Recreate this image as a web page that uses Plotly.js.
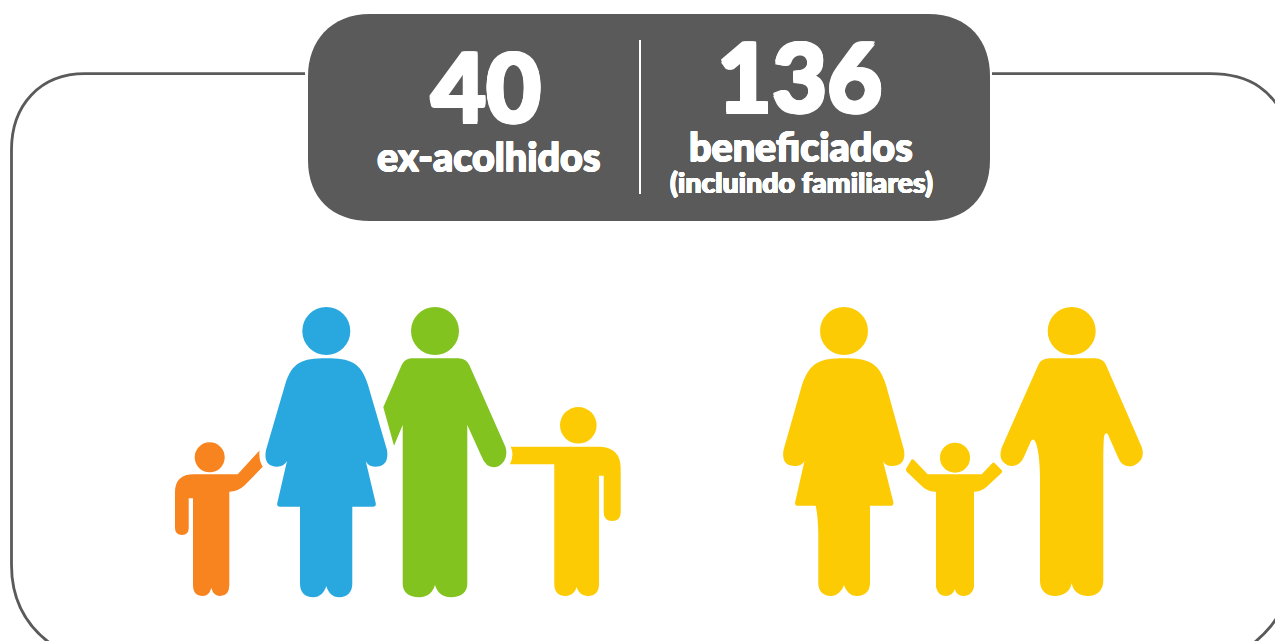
<!DOCTYPE html>
<html lang="pt">
<head>
<meta charset="utf-8">
<script src="https://cdn.plot.ly/plotly-3.0.1.min.js"></script>
<style>html,body{margin:0;padding:0;background:#fff;overflow:hidden}#chart{width:1275px;height:641px}</style>
</head>
<body>
<div id="chart"></div>
<script>
// Headline figures
const headlineValues = ['40', '136'];
const headlineLabels = ['ex-acolhidos', 'beneficiados', '(incluindo familiares)'];

// Pictogram people
const figureNames  = ['criança laranja', 'mulher azul', 'homem verde', 'criança amarela', 'mulher amarela', 'criança central', 'homem amarelo'];
const figureColors = ['#F7841F', '#29A8E0', '#82C320', '#FCCB04', '#FCCB04', '#FCCB04', '#FCCB04'];
const headX    = [209.7, 326.3, 435, 578.3, 844, 955, 1071.7];
const headY    = [457.3, 331, 331, 425.3, 331, 457.7, 331];
const headDiam = [30, 48, 48, 36.6, 48, 30, 48];

const bodyOutlines = [
  'M194 474.3 L237.7 474.3 L259.5 450.5 Q258.5 460 262.7 466.7 L245 485 Q238 491.7 229.3 491.7 L229.3 585 Q229.3 596 220 596 Q213.5 596 211.3 588 Q209 596 203 596 Q193 596 193 585 L193 498.3 L188.7 498.3 L188.7 528 Q188.7 535 182 535 Q175 535 175 528 L175 492 Q175 474.3 194 474.3 Z',
  'M326.3 358.3 C350 358.3 361 362 368 385 L387 450 Q389.5 466.7 375 466.7 Q368 466.7 365.7 461 L375.7 503 Q376.5 506.7 373 506.7 L352.3 506.7 L352.3 584 C352.3 592 347 597.3 339.5 597.3 C332 597.3 328 592 326.3 586 C324.6 592 320 597.3 313 597.3 C305 597.3 300 592 300 584 L300 506.7 L280 506.7 Q276.5 506.7 277.3 503 L287 461 Q284 466.7 277 466.7 Q263 466.7 266 450 L285 385 C292 362 302 358.3 326.3 358.3 Z',
  'M411.7 358.3 L458.3 358.3 Q466 358.3 469.3 365 L505.5 447 Q509 460 498 466.5 Q487 470 481.7 456.7 L467.3 425 L467.3 584 C467.3 592 461 597.3 451 597.3 C442 597.3 437 592 435 585 C433 592 428 597.3 419 597.3 C409 597.3 402.7 592 402.7 584 L402.7 425 L394 445.7 L383.3 407.3 L401.7 365 Q405 358.3 411.7 358.3 Z',
  'M510.7 446.7 L600 446.7 Q620.7 448 620.7 468 L620.7 512 Q620.7 521 612.2 521 Q603.7 521 603.7 512 L603.7 475.7 L599 475.7 L599 584 C599 592 595 596 588 596 C582 596 578 592 576.7 587 C575.4 592 571 596 565.5 596 C558.5 596 554.3 592 554.3 584 L554.3 464.3 L510 464.3 Q514.5 455 510.7 446.7 Z',
  'M844 358.3 C868 358.3 879 362 886 385 L904 450 Q906.5 466 892 466 Q885 466 883 461 L893.3 502 Q894 505.7 890.5 505.7 L870 505.7 L870 583 C870 591 865 596 857 596 C850 596 846 591 844 585 C842 591 837 596 831 596 C823 596 818.3 591 818.3 583 L818.3 533 Q818 516 815.7 505.7 L798 505.7 Q794.5 505.7 795.2 502 L804.5 461 Q802 466 795 466 Q781 466 783.5 450 L802 385 C810 362 820 358.3 844 358.3 Z',
  'M927.7 474.3 L981.7 474.3 L992 463.5 Q993.5 461.5 995 463.5 L1001.5 470 Q1002.8 471.7 1001.5 473 L986.7 486.7 Q981 491.7 974 491.7 L974 587 Q972 596 963 596 Q957 596 954.7 589.3 Q952.5 596 946 596 Q938 596 936 587 L936 491.7 Q928 491.7 922.5 486.7 L907 472 Q905 469.5 906.5 468 L911 460.5 Q912 458.5 914 460 Z',
  'M1050 358.3 L1095 358.3 Q1103 358.3 1106 365 L1141.7 447 Q1146 460 1134 465.5 Q1123 469 1118.3 458 L1108 434.5 Q1105 431 1104 437 Q1103.3 445 1103.3 460 L1103.3 581 C1103.3 590 1097 596 1088 596 C1079 596 1073 591 1071.7 583.3 C1070.3 591 1064 596 1055 596 C1046 596 1040 590 1040 581 L1040 476.7 Q1039.5 450 1035 441 Q1033 438 1031 441 L1024 456.7 Q1019 468 1008 465.5 Q997 460 1002 447 L1038.3 365 Q1041 358.3 1050 358.3 Z'
];

const frameColor = '#5A5A5A';
const frameLeft  = 'M305 73.7 L85 73.7 C40 73.7 11.5 105 11.5 150 L11.5 565 C11.5 610 35 641 80 660';
const frameRight = 'M992 73.7 L1210 73.7 C1250 73.7 1275 90 1290 130 M1290 590 C1280 620 1265 635 1245 650';
const panelPath  = 'M370 14 L928 14 C970 14 990 42 990 76 L990 160 C990 198 966 221 928 221 L370 221 C332 221 308 198 308 160 L308 76 C308 42 330 14 370 14 Z';

const shapes = [
  {type:'path', path:frameLeft,  line:{color:frameColor, width:2.8}, fillcolor:'rgba(0,0,0,0)'},
  {type:'path', path:frameRight, line:{color:frameColor, width:2.8}, fillcolor:'rgba(0,0,0,0)'},
  {type:'path', path:panelPath,  line:{width:0}, fillcolor:frameColor},
  {type:'line', x0:640, x1:640, y0:40, y1:194, line:{color:'#FFFFFF', width:2}}
].concat(bodyOutlines.map((p, i) => ({
  type:'path', path:p, line:{width:0}, fillcolor:figureColors[i], name:figureNames[i]
})));

const bolden = w => [[w,0],[-w,0],[0,w],[0,-w],[w,w],[-w,-w],[w,-w],[-w,w]].map(o => o[0]+'px '+o[1]+'px 0 #FFFFFF').join(', ');

const txt = (text, x, y, size, w) => ({
  text, x, y, xref:'x', yref:'y', xanchor:'center', yanchor:'middle', showarrow:false,
  font:{family:'Lato, "Open Sans", sans-serif', size, color:'#FFFFFF', weight:900, shadow:bolden(w)}
});

const annotations = [
  txt(headlineValues[0], 486, 84.5, 95, 1.5),
  txt(headlineValues[1], 799, 74.5, 95, 1.5),
  txt(headlineLabels[0], 488.5, 155.5, 39.5, 0.5),
  txt(headlineLabels[1], 801, 145, 39.5, 0.5),
  txt(headlineLabels[2], 801, 182, 28.5, 0.4)
];

const heads = {
  type:'scatter', mode:'markers', x:headX, y:headY, text:figureNames, hoverinfo:'skip',
  marker:{size:headDiam, color:figureColors, opacity:1, line:{width:0}}
};

Plotly.newPlot('chart', [heads], {
  width:1275, height:641, margin:{l:0,r:0,t:0,b:0},
  paper_bgcolor:'#FFFFFF', plot_bgcolor:'#FFFFFF', showlegend:false, hovermode:false,
  xaxis:{range:[0,1275], visible:false, fixedrange:true},
  yaxis:{range:[641,0], visible:false, fixedrange:true},
  shapes, annotations
}, {displayModeBar:false, staticPlot:true});
</script>
</body>
</html>
